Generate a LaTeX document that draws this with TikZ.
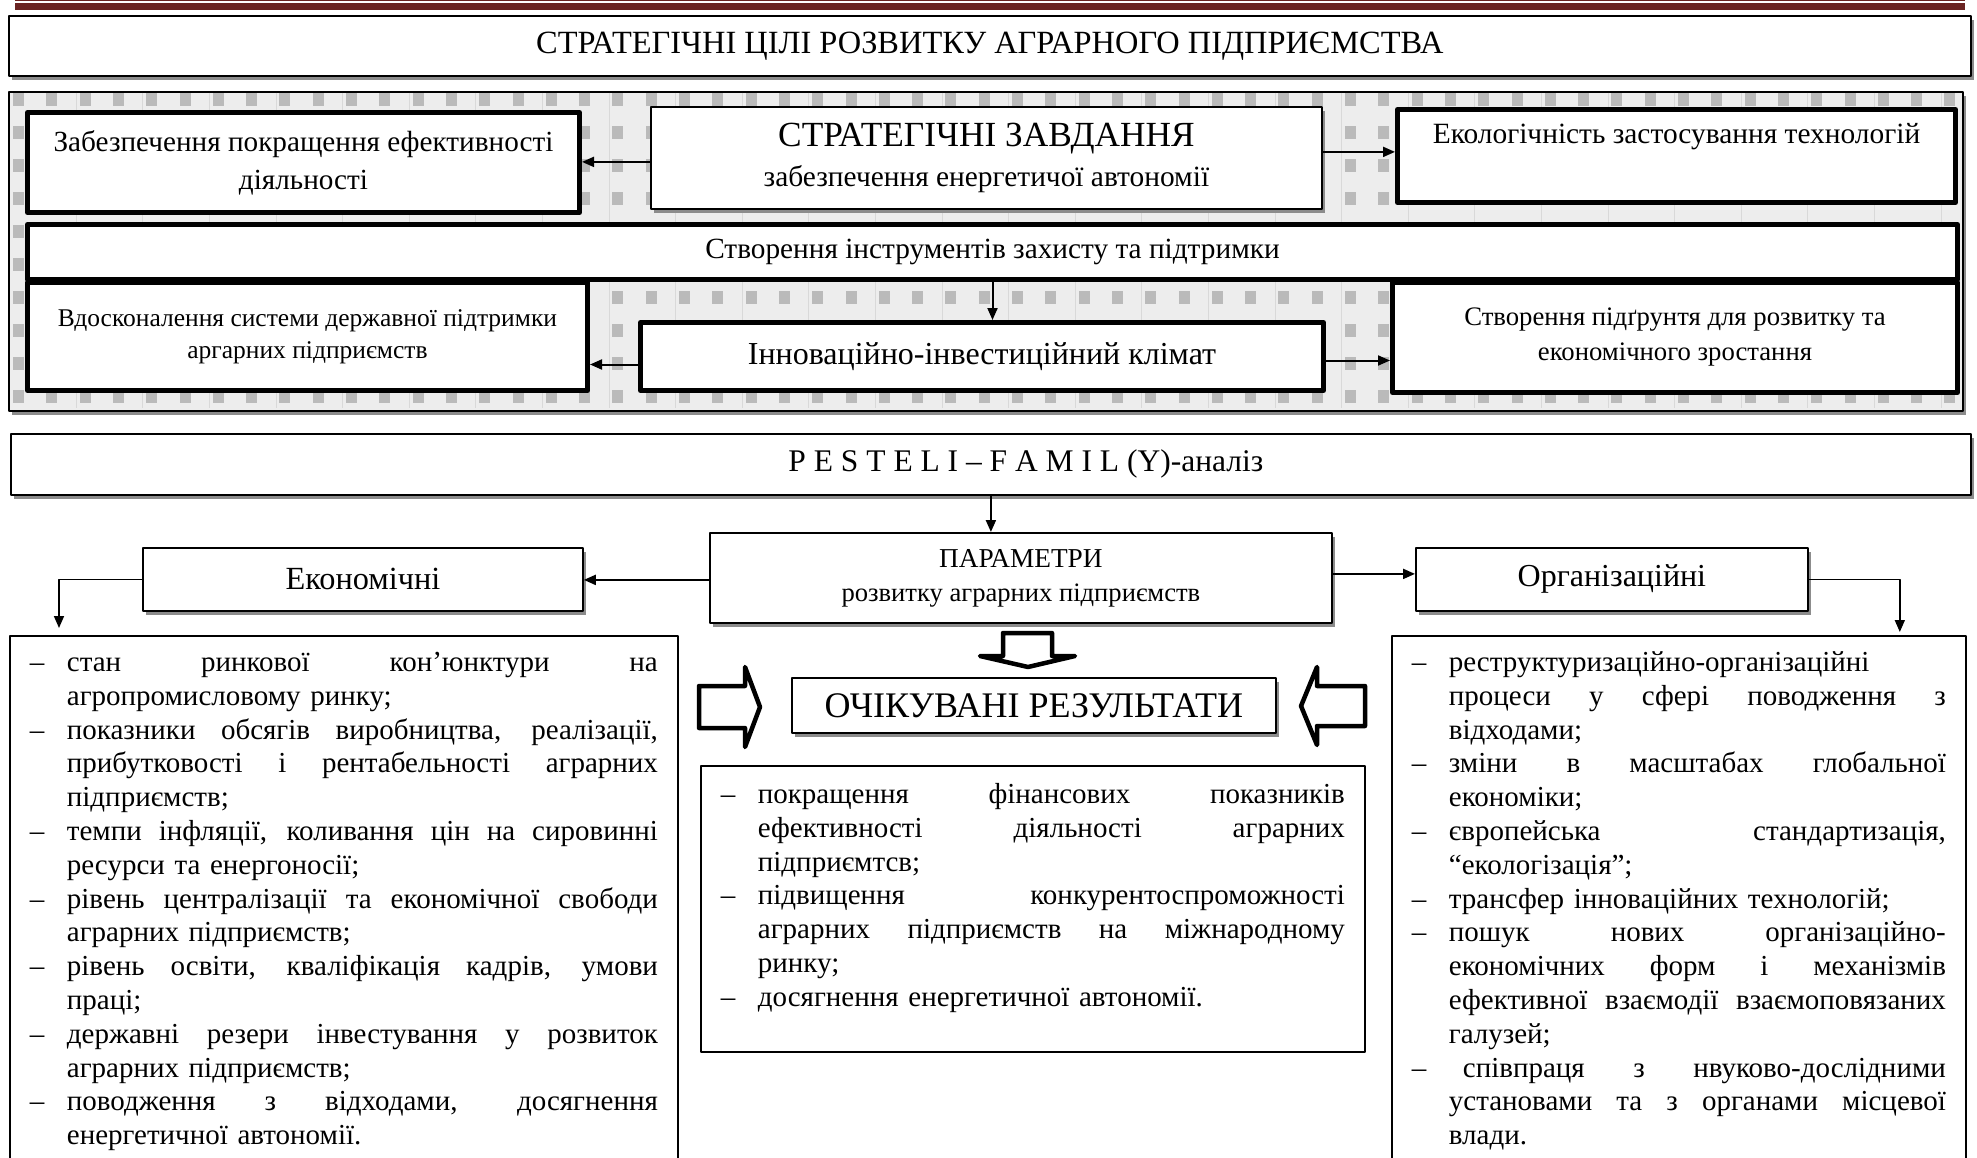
\documentclass[tikz,border=0pt]{standalone}
\usepackage{fontspec}
\setmainfont{Liberation Serif}
\usetikzlibrary{arrows.meta,shadows,positioning}
\definecolor{bandred}{HTML}{6B2422}
\newcommand\fsz[2]{\fontsize{#1}{#2}\selectfont}
\newlength\dashw
\setlength\dashw{37pt}
\newlength\listw
% list lines: j = spread to full width, l = left (last line)
\newcommand\spread[1]{\hbox to\listw{\spaceskip=.25em plus 1fil\relax\strut#1}}
\newcommand\itemj[1]{\noindent\makebox[\dashw][l]{–}\spread{#1}\par}
\newcommand\iteml[1]{\noindent\makebox[\dashw][l]{–}\strut#1\par}
\newcommand\contj[1]{\noindent\hspace*{\dashw}\spread{#1}\par}
\newcommand\contl[1]{\noindent\hspace*{\dashw}\strut#1\par}

\begin{document}
\begin{tikzpicture}[x=1pt,y=-1pt,line join=round,>={Triangle[length=12pt,width=10pt]},
	thinbox/.style={draw,line width=1.8pt,fill=white,inner sep=0pt,align=center,anchor=north west},
	thickbox/.style={draw,line width=5pt,fill=white,inner sep=0pt,align=center,anchor=north west},
	shd/.style={drop shadow={shadow xshift=3pt,shadow yshift=-4pt,fill=black!45,opacity=1}},
	listbox/.style={draw,line width=1.8pt,fill=white,inner xsep=20pt,inner ysep=12pt,anchor=north west,font=\fsz{29}{33.8}},
	link/.style={line width=2pt,->},
	fat/.style={draw,line width=4.5pt,fill=white}]
	\useasboundingbox (0,0) rectangle (1977,1158);
	\clip (0,0) rectangle (1977,1158);
	% page band
	\draw[bandred,line width=1pt] (15,0.8) -- (1965,0.8);
	\fill[bandred] (15,3) rectangle (1965,10);
	
	\node[thinbox,shd,minimum width=1962pt,minimum height=60pt,font=\fsz{32.4}{38}] (goal) at (8,15) {СТРАТЕГІЧНІ ЦІЛІ РОЗВИТКУ АГРАРНОГО ПІДПРИЄМСТВА};
	
	% patterned panel
	\node[draw,line width=1.8pt,fill=black!7,shd,anchor=north west,minimum width=1954pt,minimum height=319pt,inner sep=0pt] (panel) at (8,91) {};
	\foreach \i in {0,...,28}
	\draw[black!15,line width=0.6pt] ({76+66.6*\i},93) -- ++(0,315);
	\foreach \i in {0,...,58}
	\foreach \j in {0,...,9}
	\fill[black!27] ({13+33.3*\i},{93+33*\j}) rectangle ++(11,13);
	
	\node[thickbox,minimum width=552pt,minimum height=100pt,font=\fsz{29.2}{38}] (effic) at (25,110) {Забезпечення покращення ефективності\\діяльності};
	\node[thinbox,shd,minimum width=671pt,minimum height=102pt,font=\fsz{29.4}{40}] (tasks) at (650,106) {{\fsz{35.3}{40}СТРАТЕГІЧНІ ЗАВДАННЯ}\\забезпечення енергетичої автономії};
	\node[thickbox,minimum width=558pt,minimum height=93pt,font=\fsz{29.4}{34}] (ecol) at (1395,107) {Екологічність застосування технологій\\\strut};
	\node[thickbox,minimum width=1930pt,minimum height=55pt,font=\fsz{29.3}{34}] (tools) at (25,222) {Створення інструментів захисту та підтримки};
	\node[thickbox,minimum width=560pt,minimum height=108pt,font=\fsz{25.5}{32}] (support) at (25,280) {Вдосконалення системи державної підтримки\\аргарних підприємств};
	\node[thickbox,minimum width=683pt,minimum height=68pt,font=\fsz{32}{36}] (climate) at (638,320) {Інноваційно-інвестиційний клімат};
	\node[thickbox,minimum width=565pt,minimum height=110pt,font=\fsz{26.7}{35}] (ground) at (1390,280) {Створення підґрунтя для розвитку та\\економічного зростання};
	
	\draw[link] ([yshift=-4pt]tasks.west) -- ([yshift=-4pt]tasks.west -| effic.east);
	\draw[link] ([yshift=6pt]tasks.east) -- ([yshift=6pt]tasks.east -| ecol.west);
	\draw[link] (tools.south) -- (tools.south |- climate.north);
	\draw[link] ([yshift=-8pt]climate.west) -- ([yshift=-8pt]climate.west -| support.east);
	\draw[link] ([yshift=-4pt]climate.east) -- ([yshift=-4pt]climate.east -| ground.west);
	
	% analysis part
	\node[thinbox,shd,minimum width=1960pt,minimum height=61pt,font=\fsz{31.5}{36}] (pest) at (10,433) {\hspace*{70pt}P E S T E L I – F A M I L (Y)-аналіз};
	\node[thinbox,shd,minimum width=622pt,minimum height=90pt,font=\fsz{26.6}{34}] (param) at (709,532) {{\fsz{27.3}{34}ПАРАМЕТРИ}\\розвитку аграрних підприємств};
	\node[thinbox,shd,minimum width=440pt,minimum height=63pt,font=\fsz{32.3}{36}] (econ) at (142,547) {Економічні};
	\node[thinbox,shd,minimum width=392pt,minimum height=63pt,font=\fsz{32}{36}] (org) at (1415,547) {Організаційні};
	\node[thinbox,shd,minimum width=484pt,minimum height=55pt,font=\fsz{36}{40}] (result) at (791,677) {ОЧІКУВАНІ РЕЗУЛЬТАТИ};
	
	\node[listbox,text width=628pt] (econList) at (9,635) {\setlength\listw{591pt}%
		\itemj{стан ринкової кон’юнктури на}
		\contl{агропромисловому ринку;}
		\itemj{показники обсягів виробництва, реалізації,}
		\contj{прибутковості і рентабельності аграрних}
		\contl{підприємств;}
		\itemj{темпи інфляції, коливання цін на сировинні}
		\contl{ресурси та енергоносії;}
		\itemj{рівень централізації та економічної свободи}
		\contl{аграрних підприємств;}
		\itemj{рівень освіти, кваліфікація кадрів, умови}
		\contl{праці;}
		\itemj{державні резери інвестування у розвиток}
		\contl{аграрних підприємств;}
		\itemj{поводження з відходами, досягнення}
		\contl{енергетичної автономії.}};
	\node[listbox,inner ysep=14pt,text width=624pt] (resList) at (700,765) {\setlength\listw{587pt}%
		\itemj{покращення фінансових показників}
		\contj{ефективності діяльності аграрних}
		\contl{підприємтсв;}
		\itemj{підвищення конкурентоспроможності}
		\contj{аграрних підприємств на міжнародному}
		\contl{ринку;}
		\iteml{досягнення енергетичної автономії.\rule[-32pt]{0pt}{32pt}}};
	\node[listbox,text width=534pt] (orgList) at (1391,635) {\setlength\listw{497pt}%
		\iteml{реструктуризаційно-організаційні}
		\contj{процеси у сфері поводження з}
		\contl{відходами;}
		\itemj{зміни в масштабах глобальної}
		\contl{економіки;}
		\itemj{європейська стандартизація,}
		\contl{“екологізація”;}
		\iteml{трансфер інноваційних технологій;}
		\itemj{пошук нових організаційно-}
		\contj{економічних форм і механізмів}
		\contj{ефективної взаємодії взаємоповязаних}
		\contl{галузей;}
		\itemj{\hspace{14pt}співпраця з нвуково-дослідними}
		\contj{установами та з органами місцевої}
		\contl{влади.}};
	
	\draw[link] (pest.south) -- (pest.south |- param.north);
	\draw[link] ([yshift=-2pt]param.west) -- ([yshift=-2pt]param.west -| econ.east);
	\draw[link] ([yshift=4pt]param.east) -- ([yshift=4pt]param.east -| org.west);
	\draw[link,line width=1.6pt] (econ.west) -| ([xshift=50pt,yshift=7pt]econList.north west);
	\draw[link,line width=1.6pt] (org.east) -| ([xshift=-67pt,yshift=3pt]orgList.north east);
	
	% hollow block arrows
	\draw[fat] (1003,633) -- (1052,633) -- (1052,656) -- (1075,656) -- (1028,667) -- (980,656) -- (1003,656) -- cycle;
	\draw[fat] (699,686) -- (745,686) -- (745,667) -- (760,707) -- (745,747) -- (745,728) -- (699,728) -- cycle;
	\draw[fat] (1365,686) -- (1317,686) -- (1317,667) -- (1301,706) -- (1317,745) -- (1317,726) -- (1365,726) -- cycle;
\end{tikzpicture}
\end{document}
